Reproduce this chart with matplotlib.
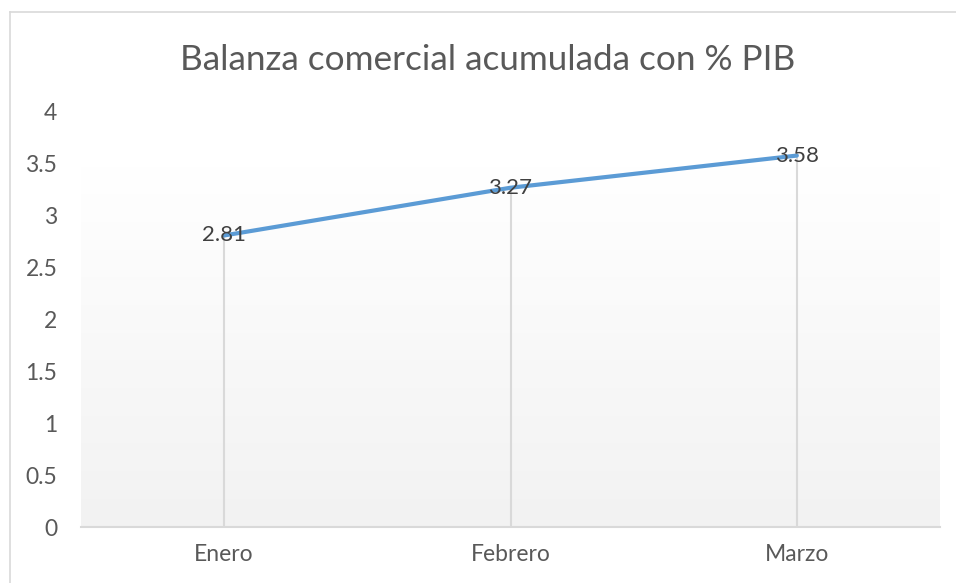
import matplotlib
matplotlib.use("Agg")
import matplotlib.pyplot as plt
import numpy as np
from matplotlib.lines import Line2D
from matplotlib.colors import LinearSegmentedColormap

categories = ["Enero", "Febrero", "Marzo"]
values = [2.81, 3.27, 3.58]
yticks = [0, 0.5, 1, 1.5, 2, 2.5, 3, 3.5, 4]
ytick_labels = ["0", "0.5", "1", "1.5", "2", "2.5", "3", "3.5", "4"]
title = "Balanza comercial acumulada con % PIB"

plt.rcParams['font.family'] = ['Lato', 'DejaVu Sans']

W, H = 956, 583
fig = plt.figure(figsize=(W / 100, H / 100), dpi=100)
fig.patch.set_facecolor("white")

left, right, bottom_px, top_px = 81, 940, 527, 112
ax = fig.add_axes([left / W, 1 - bottom_px / H, (right - left) / W, (bottom_px - top_px) / H])
ax.set_facecolor("none")

x = np.arange(len(categories))
ax.set_xlim(-0.5, len(categories) - 0.5)
ax.set_ylim(0, 4)

# gradient plot-area fill
grad = np.linspace(0, 1, 256).reshape(-1, 1)
cmap = LinearSegmentedColormap.from_list("g", ["#f2f2f2", "#ffffff"])
ax.imshow(grad, cmap=cmap, origin="lower", aspect="auto",
          extent=[-0.5, len(categories) - 0.5, 0, 3.47], zorder=0)

# drop lines
ax.vlines(x, 0, values, colors="#d9d9d9", linewidth=1.5, zorder=1)

ax.plot(x, values, color="#5b9bd5", linewidth=3.0, solid_capstyle="round", zorder=3)

for xi, v in zip(x, values):
    ax.text(xi, v, f"{v:.2f}", ha="center", va="center", fontsize=16, color="#404040", zorder=4)

ax.set_xticks(x)
ax.set_xticklabels(categories, fontsize=16.5, color="#595959")
ax.set_yticks(yticks)
ax.set_yticklabels(ytick_labels, fontsize=16.5, color="#595959")
ax.tick_params(axis="both", length=0)
ax.tick_params(axis="y", pad=17)
ax.tick_params(axis="x", pad=12)

for s in ["left", "right", "top"]:
    ax.spines[s].set_visible(False)
ax.spines["bottom"].set_color("#d9d9d9")
ax.spines["bottom"].set_linewidth(1.5)
ax.spines["bottom"].set_zorder(2)

fig.text(488 / W, 1 - 60 / H, title, ha="center", va="center", fontsize=25.3,
         color="#595959")

# outer chart border (partially visible)
fig.add_artist(Line2D([10 / W, 10 / W], [0, 1 - 12 / H], transform=fig.transFigure, color="#d9d9d9", linewidth=1.2))
fig.add_artist(Line2D([10 / W, 1], [1 - 12 / H, 1 - 12 / H], transform=fig.transFigure, color="#d9d9d9", linewidth=1.2))

fig.savefig("out.png", dpi=100)
